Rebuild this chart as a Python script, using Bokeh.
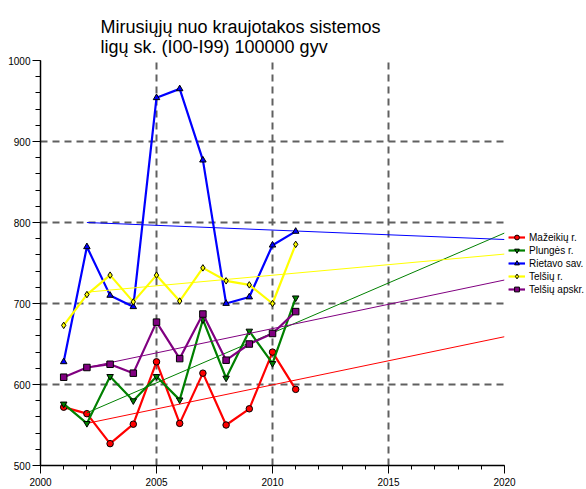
from bokeh.plotting import figure
from bokeh.models import Range1d, SingleIntervalTicker, Legend, LegendItem
from bokeh.embed import file_html
from bokeh.resources import INLINE

# ---- data ----
years = [2001, 2002, 2003, 2004, 2005, 2006, 2007, 2008, 2009, 2010, 2011]
series_names = ["Mažeikių r.", "Plungės r.", "Rietavo sav.", "Telšių r.", "Telšių apskr."]
mazeikiai = [572, 564, 527, 551, 628, 552, 614, 550, 570, 640, 594]
plunge = [576, 552, 610, 580, 610, 581, 680, 608, 666, 626, 707]
rietavas = [628, 770, 710, 696, 954, 965, 877, 700, 708, 772, 789]
telsiai_r = [673, 711, 735, 702, 735, 703, 744, 728, 723, 700, 773]
telsiai_apskr = [609, 621, 625, 614, 677, 632, 687, 630, 650, 663, 690]

# trend lines (start / end values)
trend_years = [2002, 2020]
trend_mazeikiai = [552, 659]
trend_plunge = [565, 787]
trend_rietavas = [800, 779]
trend_telsiai_r = [714, 761]
trend_telsiai_apskr = [621, 729]

x_ticks_interval = 5
y_ticks_interval = 100

# ---- styling ----
colors = ["#ff0000", "#008000", "#0000ff", "#ffff00", "#800080"]
markers = ["circle", "inverted_triangle", "triangle", "diamond", "square"]
values = [mazeikiai, plunge, rietavas, telsiai_r, telsiai_apskr]
trends = [trend_mazeikiai, trend_plunge, trend_rietavas, trend_telsiai_r, trend_telsiai_apskr]
FONT = "Liberation Sans"

p = figure(frame_width=464, frame_height=405,
           x_range=Range1d(2000, 2020), y_range=Range1d(500, 1000),
           output_backend="svg", toolbar_location=None,
           min_border_left=40, min_border_top=60, min_border_right=0, min_border_bottom=24)

p.title.text = "Mirusiųjų nuo kraujotakos sistemos\nligų sk. (I00-I99) 100000 gyv"
p.title.text_font = FONT
p.title.text_font_size = "18px"
p.title.text_font_style = "normal"
p.title.text_color = "black"
p.title.align = "left"
p.title.offset = 60
p.title.standoff = 8

p.outline_line_color = None
p.background_fill_color = "white"
p.border_fill_color = "white"

p.xaxis.ticker = SingleIntervalTicker(interval=x_ticks_interval, num_minor_ticks=5)
p.yaxis.ticker = SingleIntervalTicker(interval=y_ticks_interval, num_minor_ticks=5)
for ax in (p.xaxis, p.yaxis):
    ax.axis_line_color = "black"
    ax.axis_line_width = 1.5
    ax.major_tick_line_color = "black"
    ax.minor_tick_line_color = "black"
    ax.major_tick_in = 0
    ax.minor_tick_in = 0
    ax.major_label_text_font = FONT
    ax.major_label_text_font_size = "10px"
    ax.major_label_text_color = "black"
p.xaxis.major_tick_out = 8
p.xaxis.minor_tick_out = 4
p.xaxis.major_label_standoff = 4
p.yaxis.major_tick_out = 8
p.yaxis.minor_tick_out = 5
p.yaxis.major_label_standoff = 2

p.grid.grid_line_color = "#606060"
p.grid.grid_line_dash = "7 5"
p.grid.grid_line_width = 2

items = []
for name, col, mk, vals, tr in zip(series_names, colors, markers, values, trends):
    p.line(trend_years, tr, line_color=col, line_width=1)
    ln = p.line(years, vals, line_color=col, line_width=2.2)
    sc = p.scatter(years, vals, marker=mk, size=6.5, fill_color=col, line_color="black", line_width=1)
    items.append(LegendItem(label=name, renderers=[ln, sc]))

legend = Legend(items=items, location=(4, 170))
legend.padding = 0
legend.margin = 0
legend.spacing = 1
legend.glyph_height = 12
legend.glyph_width = 17
legend.label_height = 12
legend.label_standoff = 4
legend.label_text_font = FONT
legend.label_text_font_size = "10px"
legend.label_text_color = "black"
legend.background_fill_alpha = 0
legend.border_line_alpha = 0
p.add_layout(legend, "right")

open("out.html", "w").write(file_html(p, INLINE))
